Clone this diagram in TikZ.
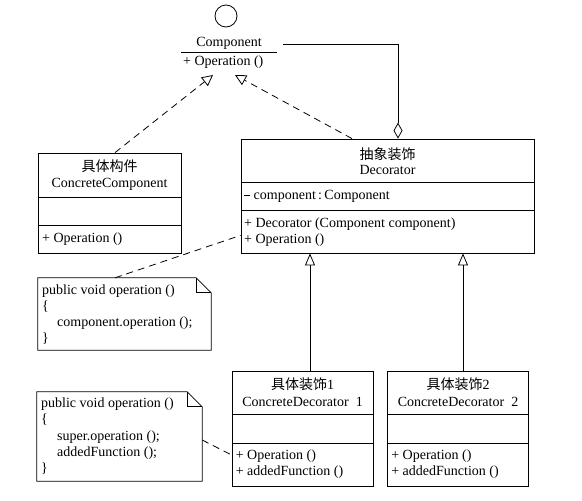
\documentclass[tikz,border=0pt]{standalone}
\usepackage{fontspec}
\setmainfont{Liberation Serif}
\newfontfamily\cjk{Noto Sans CJK SC}
\usetikzlibrary{calc,arrows.meta}

\tikzset{
  cls/.style={draw, thick, inner sep=0pt},
  txt/.style={inner sep=0pt, font=\fontsize{14}{16}\selectfont},
  ltxt/.style={txt, anchor=west},
  realize/.style={dashed, thick, dash pattern=on 7pt off 5pt, -{Triangle[open, length=11pt, width=11pt]}},
  inherit/.style={thick, -{Triangle[open, length=12pt, width=10pt]}},
  anchorline/.style={dashed, thick, dash pattern=on 7pt off 5pt}
}

\begin{document}
\begin{tikzpicture}[x=1pt, y=-1pt, line join=miter]
  \useasboundingbox (0,0) rectangle (582,501);

  % interface Component
  \node [draw, thick, circle, minimum size=22pt, inner sep=0pt] (lolli) at (226,16) {};
  \node [txt] (compname) at (229,43) {Component};
  \draw [thick] (181,52) -- (277,52);
  \node [ltxt] (compop) at (183,62) {+ Operation ()};
  \coordinate (tipA) at (213,75);
  \coordinate (tipB) at (235,75);
  \coordinate (aggstart) at (283,44);

  % ConcreteComponent
  \node [cls, minimum width=143pt, minimum height=100pt] (cc) at (109.5,203) {};
  \draw [thick] (38,197) -- (181,197);
  \draw [thick] (38,225) -- (181,225);
  \node [txt] at (109.5,166) {\cjk 具体构件};
  \node [txt] at (109.5,184) {ConcreteComponent};
  \node [ltxt] at (42,239) {+ Operation ()};

  % Decorator
  \node [cls, minimum width=293pt, minimum height=114pt] (dec) at (387.5,196) {};
  \draw [thick] (241,182) -- (534,182);
  \draw [thick] (241,210) -- (534,210);
  \node [txt] at (387.5,154) {\cjk 抽象装饰};
  \node [txt] at (387.5,170) {Decorator};
  \node [ltxt] at (244,196) {\raisebox{0.5ex}{\rule{6pt}{0.6pt}} component\,:\,Component};
  \node [ltxt] at (244,224) {+ Decorator (Component component)};
  \node [ltxt] at (244,240) {+ Operation ()};

  % ConcreteDecorator 1 and 2
  \foreach \name/\cx/\num in {cdA/302.5/1, cdB/458/2} {
    \node [cls, minimum width=141pt, minimum height=115pt] (\name) at (\cx,428.5) {};
    \draw [thick] (\name.west |- 0,414) -- (\name.east |- 0,414);
    \draw [thick] (\name.west |- 0,443) -- (\name.east |- 0,443);
    \node [txt] at (\cx,384) {{\cjk 具体装饰}\num};
    \node [txt] at (\cx,402) {ConcreteDecorator\ \ \num};
    \node [ltxt] at ($(\name.west |- 0,456)+(4,0)$) {+ Operation ()};
    \node [ltxt] at ($(\name.west |- 0,472)+(4,0)$) {+ addedFunction ()};
  }

  % notes
  \node [minimum width=173pt, minimum height=72pt, inner sep=0pt] (noteA) at (124.5,314) {};
  \draw [thick] (noteA.north west) -- ([xshift=-15pt]noteA.north east) -- ([yshift=-15pt]noteA.north east)
    -- (noteA.south east) -- (noteA.south west) -- cycle;
  \draw [thick] ([xshift=-15pt]noteA.north east) |- ([yshift=-15pt]noteA.north east);
  \node [ltxt] at (42,291) {public void operation ()};
  \node [ltxt] at (42,307) {\{};
  \node [ltxt] at (57,323) {component.operation ();};
  \node [ltxt] at (42,339) {\}};

  \node [minimum width=165pt, minimum height=89pt, inner sep=0pt] (noteB) at (119.5,436.5) {};
  \draw [thick] (noteB.north west) -- ([xshift=-15pt]noteB.north east) -- ([yshift=-15pt]noteB.north east)
    -- (noteB.south east) -- (noteB.south west) -- cycle;
  \draw [thick] ([xshift=-15pt]noteB.north east) |- ([yshift=-15pt]noteB.north east);
  \node [ltxt] at (41,404) {public void operation ()};
  \node [ltxt] at (41,420) {\{};
  \node [ltxt] at (57,437) {super.operation ();};
  \node [ltxt] at (57,453) {addedFunction ();};
  \node [ltxt] at (41,469) {\}};

  % connectors
  \draw [realize] ([xshift=5.5pt]cc.north) -- (tipA);
  \draw [realize] ([xshift=-35.5pt]dec.north) -- (tipB);
  \draw [thick, -{Diamond[open, length=16pt, width=9pt]}] (aggstart) -| ([xshift=10.5pt]dec.north);
  \draw [inherit] ([xshift=7.5pt]cdA.north) -- ([xshift=7.5pt]cdA.north |- dec.south);
  \draw [inherit] ([xshift=5pt]cdB.north) -- ([xshift=5pt]cdB.north |- dec.south);
  \draw [anchorline] ([xshift=-9.5pt]noteA.north) -- ([yshift=18pt]dec.south west);
  \draw [anchorline] ([yshift=-3.5pt]noteB.east) -- ([yshift=-26.5pt]cdA.west);
\end{tikzpicture}
\end{document}
